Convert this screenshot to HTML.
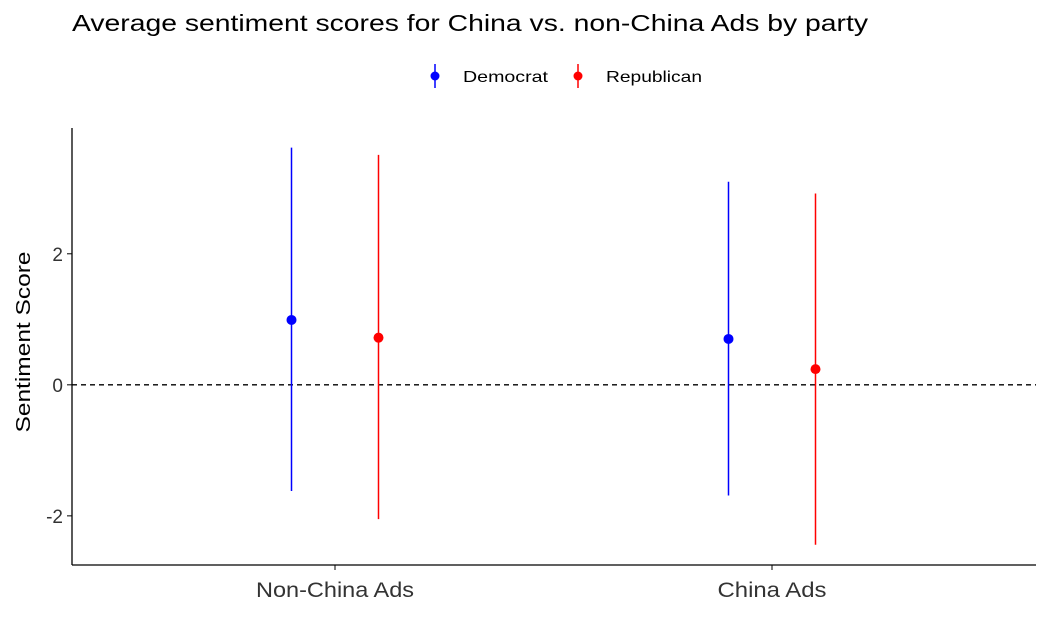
<!DOCTYPE html>
<html><head><meta charset="utf-8">
<style>
body{margin:0;background:#fff;}
svg{display:block;font-family:"Liberation Sans",Arial,sans-serif;}
</style></head>
<body>
<svg id="chart" width="1046" height="637">
<text x="72" y="31" font-size="23" textLength="796" lengthAdjust="spacingAndGlyphs" fill="#000">Average sentiment scores for China vs. non-China Ads by party</text>
<g>
 <g>
  <line x1="435" y1="64" x2="435" y2="88" stroke="blue" stroke-width="1.5"/>
  <circle cx="435" cy="76" r="4.5" fill="blue"/>
  <text x="463" y="82" font-size="16" textLength="85" lengthAdjust="spacingAndGlyphs">Democrat</text>
 </g>
 <g>
  <line x1="578" y1="64" x2="578" y2="88" stroke="red" stroke-width="1.5"/>
  <circle cx="578" cy="76" r="4.5" fill="red"/>
  <text x="606" y="82" font-size="16" textLength="96" lengthAdjust="spacingAndGlyphs">Republican</text>
 </g>
</g>
<text transform="translate(30,342) rotate(-90)" text-anchor="middle" font-size="20" textLength="181" lengthAdjust="spacingAndGlyphs">Sentiment Score</text>
<g id="plot"></g>
</svg>
<script>
const categories=["Non-China Ads","China Ads"];
const parties=["Democrat","Republican"];
const colors=["blue","red"];
const demMean=[0.99,0.70];
const demLow=[-1.62,-1.69];
const demHigh=[3.62,3.10];
const repMean=[0.72,0.24];
const repLow=[-2.05,-2.44];
const repHigh=[3.51,2.92];
const yTicks=[-2,0,2];

const NS="http://www.w3.org/2000/svg";
const g=document.getElementById("plot");
const L=72,R=1036,T=128,B=565,yMin=-2.75,yMax=3.92;
const y=v=>B-(v-yMin)/(yMax-yMin)*(B-T);
const dodge=43.5;
const catWidths=[158,109];
function el(t,a){const e=document.createElementNS(NS,t);for(const k in a)e.setAttribute(k,a[k]);g.appendChild(e);return e;}

let e=el("line",{x1:L,y1:T,x2:L,y2:B,stroke:"#000","stroke-width":1.3});


e=el("line",{x1:L,y1:B,x2:R,y2:B,stroke:"#000","stroke-width":1.3});


e=el("line",{x1:L,y1:y(0),x2:R,y2:y(0),stroke:"#000","stroke-width":1.3,"stroke-dasharray":"5,4"});



yTicks.forEach(t=>{
 e=el("line",{x1:L-5,y1:y(t),x2:L,y2:y(t),stroke:"#000"});
 
 
 e=el("text",{x:L-9,y:y(t)+7,"text-anchor":"end","font-size":19,fill:"#333"});
 e.textContent=t;
 
 
});
const cx=i=>335+i*437;
categories.forEach((c,i)=>{
 e=el("line",{x1:cx(i),y1:B,x2:cx(i),y2:B+5,stroke:"#000"});
 
 
 e=el("text",{x:cx(i)-catWidths[i]/2,y:B+32,"font-size":21,fill:"#333",textLength:catWidths[i],lengthAdjust:"spacingAndGlyphs"});
 e.textContent=c;
 
 
});
const series=[[demMean,demLow,demHigh],[repMean,repLow,repHigh]];
series.forEach((s,p)=>{
 categories.forEach((c,i)=>{
  const px=cx(i)+(p===0?-dodge:dodge);
  e=el("line",{x1:px,y1:y(s[2][i]),x2:px,y2:y(s[1][i]),stroke:colors[p],"stroke-width":1.5});
  
  
  e=el("circle",{cx:px,cy:y(s[0][i]),r:5,fill:colors[p]});
  
  
 });
});
</script>
</body></html>
